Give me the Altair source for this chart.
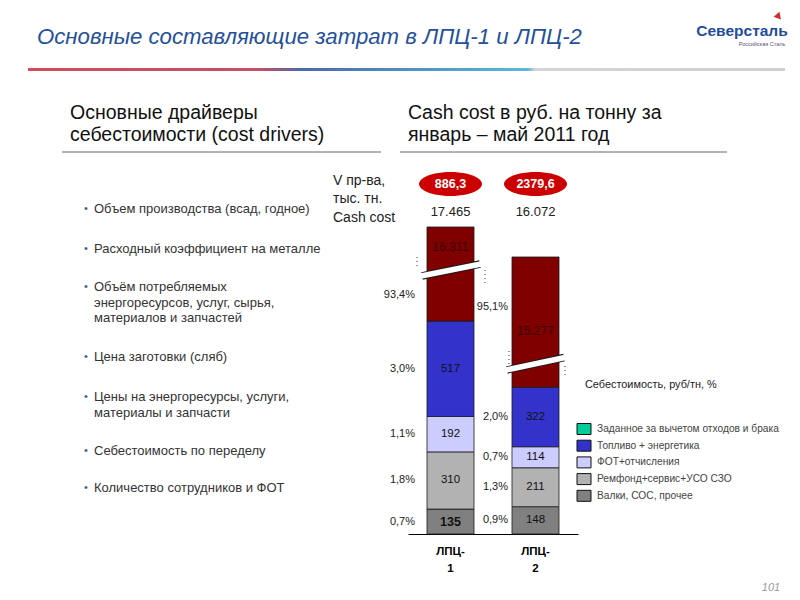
import math
import altair as alt
import pandas as pd

# ---------------- data ----------------
categories = ["ЛПЦ-1", "ЛПЦ-2"]
parts = ["Валки, СОС, прочее", "Ремфонд+сервис+УСО СЗО", "ФОТ+отчисления",
         "Топливо + энергетика", "Заданное за вычетом отходов и брака"]
lpc1_values = [135, 310, 192, 517, 16311]
lpc2_values = [148, 211, 114, 322, 15277]
lpc1_shares = ["0,7%", "1,8%", "1,1%", "3,0%", "93,4%"]
lpc2_shares = ["0,9%", "1,3%", "0,7%", "2,0%", "95,1%"]
volumes = ["886,3", "2379,6"]
bar_colors = ["#808080", "#b2b2b2", "#ccccff", "#3333cc", "#800000"]
legend_labels = ["Заданное за вычетом отходов и брака", "Топливо + энергетика",
                 "ФОТ+отчисления", "Ремфонд+сервис+УСО СЗО", "Валки, СОС, прочее"]
legend_colors = ["#00cc99", "#3333cc", "#ccccff", "#b2b2b2", "#808080"]
drivers = [
    ["Объем производства (всад, годное)"],
    ["Расходный коэффициент на металле"],
    ["Объём потребляемых", "энергоресурсов, услуг, сырья,", "материалов и запчастей"],
    ["Цена заготовки (сляб)"],
    ["Цены на энергоресурсы, услуги,", "материалы и запчасти"],
    ["Себестоимость по переделу"],
    ["Количество сотрудников и ФОТ"],
]


def fmt_thousands(v):
    return f"{v:,}".replace(",", ".")


rows = []
for cat, vals, shares in [(categories[0], lpc1_values, lpc1_shares),
                          (categories[1], lpc2_values, lpc2_shares)]:
    for i, (p, v, s) in enumerate(zip(parts, vals, shares)):
        rows.append({"cat": cat, "part": p, "idx": i, "value": v, "share": s,
                     "label": fmt_thousands(v)})
df = pd.DataFrame(rows)
tops = pd.DataFrame({
    "cat": categories,
    "volume": volumes,
    "cash": [fmt_thousands(sum(lpc1_values)), fmt_thousands(sum(lpc2_values))],
})

# ---------------- layout helpers ----------------
OFF = 8
FONT = "Liberation Sans"


def P(v):
    return v - OFF


one = pd.DataFrame({"k": [0]})


def txt(text, x, y, size=12, color="#222222", weight="normal", style="normal",
        align="left", font=FONT, baseline="middle"):
    return alt.Chart(one).mark_text(
        fontSize=size, color=color, fontWeight=weight, fontStyle=style,
        align=align, font=font, baseline=baseline
    ).encode(x=alt.value(P(x)), y=alt.value(P(y)), text=alt.value(text))


def rule(x1, y1, x2, y2, color="#999999", width=1.0, dash=None):
    kw = dict(color=color, strokeWidth=width)
    if dash:
        kw["strokeDash"] = dash
    return alt.Chart(one).mark_rule(**kw).encode(
        x=alt.value(P(x1)), y=alt.value(P(y1)), x2=alt.value(P(x2)), y2=alt.value(P(y2)))


def rect(x1, y1, x2, y2, color, stroke=None, sw=1.0):
    kw = dict(color=color)
    if stroke:
        kw["stroke"] = stroke
        kw["strokeWidth"] = sw
    return alt.Chart(one).mark_rect(**kw).encode(
        x=alt.value(P(x1)), y=alt.value(P(y1)), x2=alt.value(P(x2)), y2=alt.value(P(y2)))


# ---------------- scales ----------------
xscale = alt.Scale(domain=categories, range=[P(408), P(578)],
                   paddingInner=0.447, paddingOuter=0.2235)
xaxis = alt.Axis(title=None, domainColor="black", domainWidth=1, ticks=False,
                 labelFont=FONT, labelFontWeight="bold", labelFontSize=11.5,
                 labelColor="black", labelPadding=11, labelLineHeight=17,
                 labelAngle=0, grid=False,
                 labelExpr="[slice(datum.label,0,4), slice(datum.label,4)]")
X = alt.X("cat:N", scale=xscale, axis=xaxis)
k = 0.1845
yscale = alt.Scale(type="linear", domain=[0, 1160, 16072, 17465],
                   range=[P(534), P(534 - 1160 * k), P(257), P(227)],
                   nice=False, zero=False)

stacked = alt.Chart(df).transform_stack(
    stack="value", groupby=["cat"], as_=["y0", "y1"],
    sort=[alt.SortField("idx", order="ascending")]
).transform_calculate(mid="(datum.y0 + datum.y1) / 2")

bars = stacked.mark_bar(stroke="#1a1a1a", strokeWidth=0.8).encode(
    x=X,
    y=alt.Y("y0:Q", scale=yscale, axis=None),
    y2="y1:Q",
    color=alt.Color("part:N", scale=alt.Scale(domain=parts, range=bar_colors), legend=None),
)

layers = [bars]

# in-bar value labels (non-red segments)
layers.append(stacked.transform_filter(
    "datum.idx < 4 && !(datum.idx == 0 && datum.cat == 'ЛПЦ-1')"
).mark_text(font=FONT, fontSize=11.5, color="#111111", baseline="middle").encode(
    x=X, y=alt.Y("mid:Q", scale=yscale, axis=None), text="label:N"))
layers.append(stacked.transform_filter(
    "datum.idx == 0 && datum.cat == 'ЛПЦ-1'"
).mark_text(font=FONT, fontSize=12.5, fontWeight="bold", color="#111111",
            baseline="middle").encode(
    x=X, y=alt.Y("mid:Q", scale=yscale, axis=None), text="label:N"))

# per-bar layout tweaks
pct_dx = {"ЛПЦ-1": -35.5, "ЛПЦ-2": -27.5}
red_label_dy = {"ЛПЦ-1": 20, "ЛПЦ-2": 74}
red_pct_dy = {"ЛПЦ-1": 68, "ЛПЦ-2": 50}
for cat in categories:
    layers.append(stacked.transform_filter(
        f"datum.idx < 4 && datum.cat == '{cat}'"
    ).mark_text(font=FONT, fontSize=11, color="#222222", align="right",
                baseline="middle", dx=pct_dx[cat]).encode(
        x=X, y=alt.Y("mid:Q", scale=yscale, axis=None), text="share:N"))
    layers.append(stacked.transform_filter(
        f"datum.idx == 4 && datum.cat == '{cat}'"
    ).mark_text(font=FONT, fontSize=11, color="#222222", align="right",
                baseline="middle", dx=pct_dx[cat], dy=red_pct_dy[cat]).encode(
        x=X, y=alt.Y("y1:Q", scale=yscale, axis=None), text="share:N"))
    layers.append(stacked.transform_filter(
        f"datum.idx == 4 && datum.cat == '{cat}'"
    ).mark_text(font=FONT, fontSize=12, color="#3a0000",
                baseline="middle", dy=red_label_dy[cat]).encode(
        x=X, y=alt.Y("y1:Q", scale=yscale, axis=None), text="label:N"))

# axis breaks
for (xa, ya, xb, yb), dots in [
    ((422, 276, 480, 264), [(417, 257, 417, 269), (485, 270, 485, 283)]),
    ((507, 370, 564, 357.5), [(509, 351, 509, 365), (565, 366, 565, 378)]),
]:
    layers.append(rule(xa, ya, xb, yb, color="#1a1a1a", width=7.5))
    layers.append(rule(xa - 1, ya, xb + 1, yb, color="white", width=5.5))
    for d in dots:
        layers.append(rule(*d, color="#333333", width=1, dash=[1, 3]))

# ellipses with volumes
npts = 48
ell = "M " + " L ".join(
    f"{math.cos(2 * math.pi * i / npts):.4f} {0.381 * math.sin(2 * math.pi * i / npts):.4f}"
    for i in range(npts)) + " Z"
layers.append(alt.Chart(tops).mark_point(shape=ell, size=63 * 63, filled=True,
                                         color="#cc0000", opacity=1).encode(
    x=X, y=alt.value(P(184))))
layers.append(alt.Chart(tops).mark_text(font=FONT, fontSize=12.5, fontWeight="bold",
                                        color="white", baseline="middle").encode(
    x=X, y=alt.value(P(184)), text="volume:N"))
layers.append(alt.Chart(tops).mark_text(font=FONT, fontSize=13, color="#222222",
                                        baseline="middle").encode(
    x=X, y=alt.value(P(212)), text="cash:N"))

# row labels
layers.append(txt("V пр-ва,", 333, 181, size=14))
layers.append(txt("тыс. тн.", 333, 199, size=14))
layers.append(txt("Cash cost", 333, 218, size=14))

# legend
layers.append(txt("Себестоимость, руб/тн, %", 585, 385, size=10.9, color="#222222"))
for i, (lab, col) in enumerate(zip(legend_labels, legend_colors)):
    yc = 429 + i * 16.7
    layers.append(rect(577, yc - 5.5, 591, yc + 5.5, col, stroke="#111111", sw=1))
    layers.append(txt(lab, 597, yc, size=10.2, color="#444444"))

# title, line, logo
layers.append(txt("Основные составляющие затрат в ЛПЦ-1 и ЛПЦ-2", 37, 37, size=22.2,
                  color="#24509a", style="italic"))
grad = alt.Gradient(gradient="linear", x1=0, x2=1, y1=0, y2=0, stops=[
    alt.GradientStop(color="#d24b55", offset=0.0),
    alt.GradientStop(color="#c05068", offset=0.31),
    alt.GradientStop(color="#4a6aa8", offset=0.36),
    alt.GradientStop(color="#5ab8dc", offset=0.66),
    alt.GradientStop(color="#d4d4d4", offset=0.67),
    alt.GradientStop(color="#cfcfcf", offset=1.0),
])
layers.append(alt.Chart(one).mark_rect(color=grad).encode(
    x=alt.value(P(28)), x2=alt.value(P(785)), y=alt.value(P(68)), y2=alt.value(P(71))))
layers.append(txt("Северсталь", 742, 31, size=15.5, color="#1f4e9c", weight="bold",
                  align="center"))
layers.append(txt("Российская Сталь", 762, 44, size=5.5, color="#555577", align="center"))
layers.append(alt.Chart(one).mark_point(shape="triangle", size=60, filled=True,
                                        color="#d62b2b", opacity=1, angle=20).encode(
    x=alt.value(P(778)), y=alt.value(P(16))))
layers.append(txt("101", 771, 588, size=11, color="#999999", style="italic", align="center"))

# headings
layers.append(txt("Основные драйверы", 70, 113, size=19.5, color="#111111"))
layers.append(txt("себестоимости (cost drivers)", 70, 135, size=19.5, color="#111111"))
layers.append(txt("Cash cost в руб. на тонну за", 408, 113, size=19.5, color="#111111"))
layers.append(txt("январь – май 2011 год", 408, 135, size=19.5, color="#111111"))
layers.append(rule(62, 152, 381, 152, color="#9a9a9a", width=1.5))
layers.append(rule(400, 152, 727, 152, color="#9a9a9a", width=1.5))

# bullet list
starts = [209, 249, 287, 357, 397, 451, 488]
for lines, y0 in zip(drivers, starts):
    layers.append(txt("•", 84, y0, size=11, color="#4a5f85"))
    for j, line in enumerate(lines):
        layers.append(txt(line, 94, y0 + j * 15.5, size=13, color="#333333"))

chart = alt.layer(*layers).properties(
    width=784, height=526,
    padding={"left": 0, "top": 0, "right": 0, "bottom": 58},
    autosize=alt.AutoSizeParams(type="none"),
).configure_view(stroke=None)

chart.save("out.html", embed_options={"renderer": "svg", "actions": False})
